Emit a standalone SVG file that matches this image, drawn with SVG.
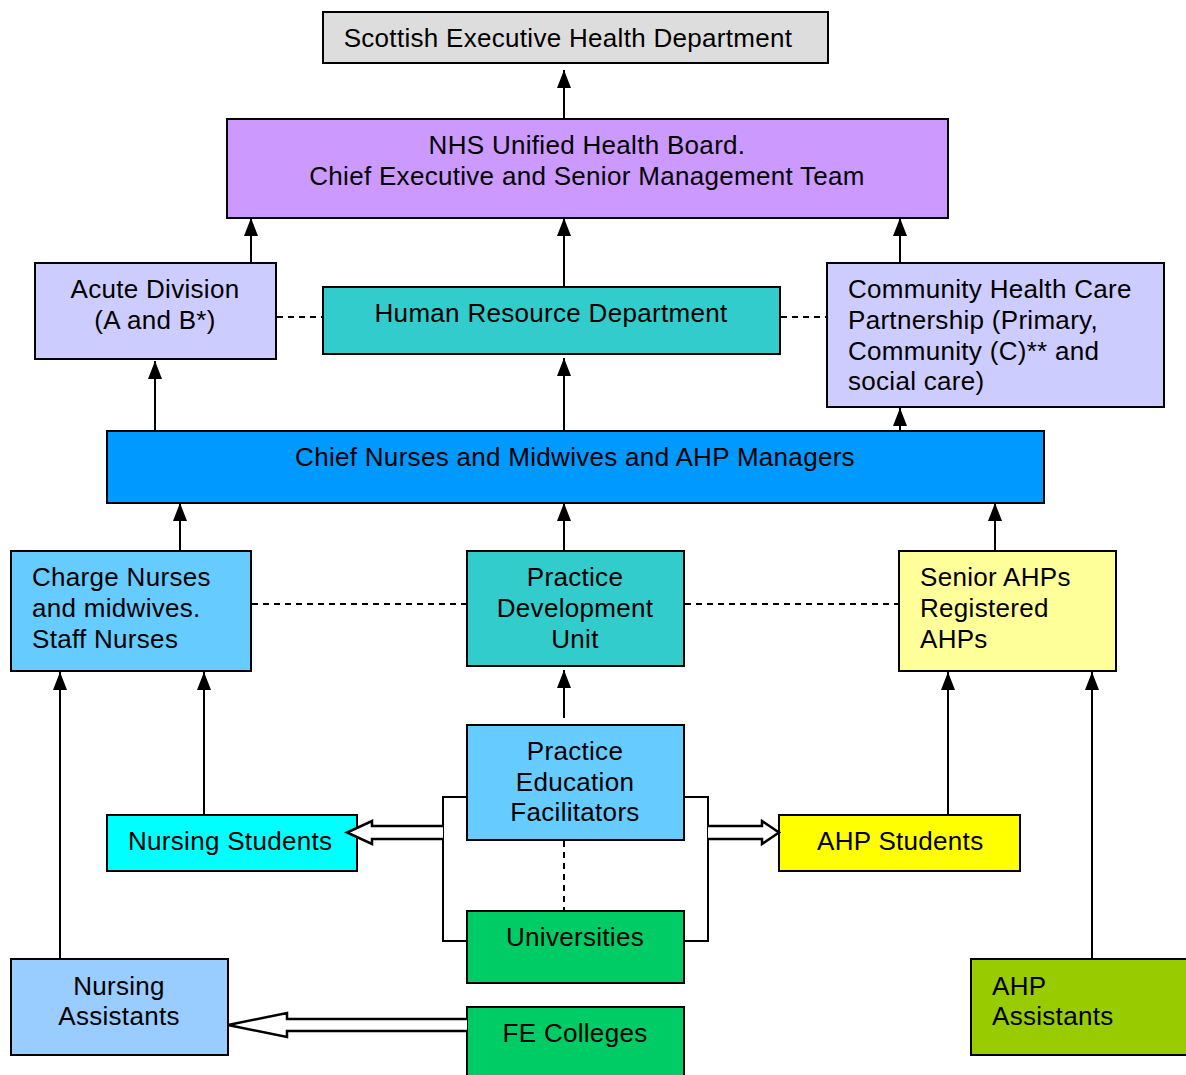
<svg xmlns="http://www.w3.org/2000/svg" width="1186" height="1075" viewBox="0 0 1186 1075">
  <style>
    .box { stroke: #000; stroke-width: 2; }
    .t { font-family: "Liberation Sans", Arial, sans-serif; font-size: 26px; letter-spacing: 0.3px; fill: #000; }
    .c { text-anchor: middle; }
    .ln { stroke: #000; stroke-width: 2; fill: none; }
    .dash { stroke: #000; stroke-width: 2; fill: none; stroke-dasharray: 6 5; }
    .block { stroke: #000; stroke-width: 2.5; fill: #fff; stroke-linejoin: miter; }
  </style>
  <defs>
    <marker id="arr" viewBox="0 0 18 14" refX="18" refY="7" markerWidth="18" markerHeight="14" markerUnits="userSpaceOnUse" orient="auto">
      <path d="M0,0 L18,7 L0,14 Z" fill="#000"/>
    </marker>
  </defs>
  <rect width="1186" height="1075" fill="#fff"/>

  <g id="sehd">
    <rect class="box" x="323" y="12" width="505" height="51" fill="#dddddd"/>
    <text class="t c" x="568" y="47">Scottish Executive Health Department</text>
  </g>
  <g id="nhs-board">
    <rect class="box" x="227" y="119" width="721" height="99" fill="#cc99ff"/>
    <text class="t c" x="587" y="154">NHS Unified Health Board.</text>
    <text class="t c" x="587" y="185">Chief Executive and Senior Management Team</text>
  </g>
  <g id="acute">
    <rect class="box" x="35" y="263" width="241" height="96" fill="#ccccff"/>
    <text class="t c" x="155" y="298">Acute Division</text>
    <text class="t c" x="155" y="329">(A and B*)</text>
  </g>
  <g id="hr">
    <rect class="box" x="323" y="287" width="457" height="67" fill="#33cccc"/>
    <text class="t c" x="551" y="322">Human Resource Department</text>
  </g>
  <g id="community">
    <rect class="box" x="827" y="263" width="337" height="144" fill="#ccccff"/>
    <text class="t" x="848" y="298">Community Health Care</text>
    <text class="t" x="848" y="329">Partnership (Primary,</text>
    <text class="t" x="848" y="360">Community (C)** and</text>
    <text class="t" x="848" y="390">social care)</text>
  </g>
  <g id="chief-nurses">
    <rect class="box" x="107" y="431" width="937" height="72" fill="#0099ff"/>
    <text class="t c" x="575" y="466">Chief Nurses and Midwives and AHP Managers</text>
  </g>
  <g id="charge-nurses">
    <rect class="box" x="11" y="551" width="240" height="120" fill="#66ccff"/>
    <text class="t" x="32" y="586">Charge Nurses</text>
    <text class="t" x="32" y="617">and midwives.</text>
    <text class="t" x="32" y="648">Staff Nurses</text>
  </g>
  <g id="pdu">
    <rect class="box" x="467" y="551" width="217" height="115" fill="#33cccc"/>
    <text class="t c" x="575" y="586">Practice</text>
    <text class="t c" x="575" y="617">Development</text>
    <text class="t c" x="575" y="648">Unit</text>
  </g>
  <g id="senior-ahps">
    <rect class="box" x="899" y="551" width="217" height="120" fill="#ffff99"/>
    <text class="t" x="920" y="586">Senior AHPs</text>
    <text class="t" x="920" y="617">Registered</text>
    <text class="t" x="920" y="648">AHPs</text>
  </g>
  <g id="pef">
    <rect class="box" x="467" y="725" width="217" height="115" fill="#66ccff"/>
    <text class="t c" x="575" y="760">Practice</text>
    <text class="t c" x="575" y="791">Education</text>
    <text class="t c" x="575" y="821">Facilitators</text>
  </g>
  <g id="nursing-students">
    <rect class="box" x="107" y="815" width="250" height="56" fill="#00ffff"/>
    <text class="t" x="128" y="850">Nursing Students</text>
  </g>
  <g id="ahp-students">
    <rect class="box" x="779" y="815" width="241" height="56" fill="#ffff00"/>
    <text class="t" x="817" y="850">AHP Students</text>
  </g>
  <g id="universities">
    <rect class="box" x="467" y="911" width="217" height="72" fill="#00cc66"/>
    <text class="t c" x="575" y="946">Universities</text>
  </g>
  <g id="nursing-assistants">
    <rect class="box" x="11" y="959" width="217" height="96" fill="#99ccff"/>
    <text class="t c" x="119" y="995">Nursing</text>
    <text class="t c" x="119" y="1025">Assistants</text>
  </g>
  <g id="fe-colleges">
    <rect class="box" x="467" y="1007" width="217" height="80" fill="#00cc66"/>
    <text class="t c" x="575" y="1042">FE Colleges</text>
  </g>
  <g id="ahp-assistants">
    <rect class="box" x="971" y="959" width="225" height="96" fill="#99cc00"/>
    <text class="t" x="992" y="995">AHP</text>
    <text class="t" x="992" y="1025">Assistants</text>
  </g>

  <!-- connectors, drawn last so the hollow arrowheads sit on top of the boxes -->
  <g id="connectors">
    <!-- vertical reporting lines, arrow at the upper end -->
    <line class="ln" x1="564" y1="119" x2="564" y2="70" marker-end="url(#arr)"/>
    <line class="ln" x1="251" y1="263" x2="251" y2="218" marker-end="url(#arr)"/>
    <line class="ln" x1="564" y1="287" x2="564" y2="218" marker-end="url(#arr)"/>
    <line class="ln" x1="900" y1="263" x2="900" y2="218" marker-end="url(#arr)"/>
    <line class="ln" x1="155" y1="431" x2="155" y2="361" marker-end="url(#arr)"/>
    <line class="ln" x1="564" y1="431" x2="564" y2="358" marker-end="url(#arr)"/>
    <line class="ln" x1="900" y1="431" x2="900" y2="408" marker-end="url(#arr)"/>
    <line class="ln" x1="180" y1="551" x2="180" y2="503" marker-end="url(#arr)"/>
    <line class="ln" x1="564" y1="551" x2="564" y2="503" marker-end="url(#arr)"/>
    <line class="ln" x1="995" y1="551" x2="995" y2="503" marker-end="url(#arr)"/>
    <line class="ln" x1="564" y1="718" x2="564" y2="670" marker-end="url(#arr)"/>
    <line class="ln" x1="204" y1="815" x2="204" y2="672" marker-end="url(#arr)"/>
    <line class="ln" x1="60" y1="959" x2="60" y2="672" marker-end="url(#arr)"/>
    <line class="ln" x1="948" y1="815" x2="948" y2="672" marker-end="url(#arr)"/>
    <line class="ln" x1="1092" y1="959" x2="1092" y2="672" marker-end="url(#arr)"/>

    <!-- dashed peer links -->
    <line class="dash" x1="277" y1="317" x2="322" y2="317"/>
    <line class="dash" x1="781" y1="317" x2="826" y2="317"/>
    <line class="dash" x1="252" y1="604" x2="466" y2="604"/>
    <line class="dash" x1="685" y1="604" x2="898" y2="604"/>
    <line class="dash" x1="564" y1="841" x2="564" y2="910"/>

    <!-- brackets joining facilitators and universities -->
    <path class="ln" d="M467,797 H443 V941 H467"/>
    <path class="ln" d="M684,797 H708 V941 H684"/>

    <!-- hollow block arrows -->
    <path class="block" d="M443,826 H372 V821 L347,832.5 L372,844 V839 H443"/>
    <path class="block" d="M708,826 H762 V821 L779,832.5 L762,844 V839 H708"/>
    <path class="block" d="M467,1019 H287 V1013 L228,1025 L287,1037 V1031 H467"/>
  </g>
</svg>
